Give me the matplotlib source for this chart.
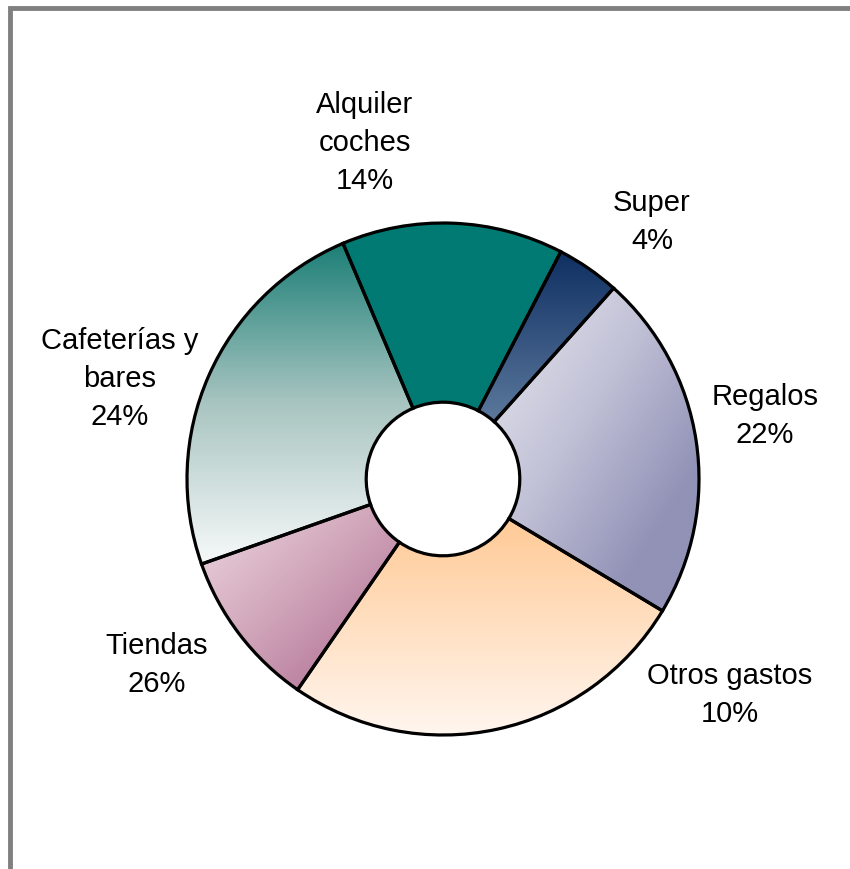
import numpy as np
import matplotlib
matplotlib.use("Agg")
import matplotlib.pyplot as plt
from matplotlib.colors import LinearSegmentedColormap
from matplotlib.patches import Wedge

plt.rcParams['font.family'] = ['Liberation Sans', 'DejaVu Sans']

# Datos (orden de las porciones, en sentido horario desde arriba)
porciones = ['Alquiler coches', 'Super', 'Regalos', 'Otros gastos', 'Tiendas', 'Cafeterías y bares']
valores = [14, 4, 22, 26, 10, 24]

# Etiquetas tal y como aparecen en el gráfico
etiquetas = ['Alquiler\ncoches', 'Super', 'Regalos', 'Otros gastos', 'Tiendas', 'Cafeterías y\nbares']
porcentajes = [14, 4, 22, 10, 26, 24]

# Colores de degradado (paradas, dirección)
degradados = [
    (['#007A73', '#007A73'], 'v'),
    (['#0E2F62', '#5C789C'], 'v'),
    (['#E0E0EA', '#B0B0CC', '#6E6EA0'], 'd'),
    (['#FFCA96', '#FFF6EF'], 'v'),
    (['#E8CAD7', '#C894AC', '#A45680'], 'd'),
    (['#1C7F77', '#A9C5C1', '#F6F9F9'], 'v'),
]
rayado = [False, False, True, False, True, False]

W, H = 850, 870
fig = plt.figure(figsize=(W / 100, H / 100), dpi=100)
ax = fig.add_axes([0, 0, 1, 1])

cx, cy, R = 443, H - 480, 256
wedges, _ = ax.pie(valores, center=(cx, cy), radius=R, startangle=113,
                   counterclock=False,
                   wedgeprops=dict(width=R * 0.7, facecolor='none',
                                   edgecolor='black', linewidth=2.3, zorder=3))


def rellenar(w, colores, modo):
    x0, y0, x1, y1 = w.get_path().get_extents().extents
    n = 300
    yy, xx = np.mgrid[0:1:n * 1j, 0:1:n * 1j]
    t = yy if modo == 'v' else np.clip((xx + yy) / 1.55, 0, 1)
    cmap = LinearSegmentedColormap.from_list('g', colores)
    im = ax.imshow(t, cmap=cmap, vmin=0, vmax=1, extent=[x0, x1, y0, y1],
                   origin='upper', interpolation='bilinear', zorder=1)
    im.set_clip_path(w)


for w, (colores, modo), r in zip(wedges, degradados, rayado):
    rellenar(w, colores, modo)
    if r:
        h = Wedge(w.center, w.r, w.theta1, w.theta2, width=w.width,
                  facecolor='none', edgecolor=(1, 1, 1, 0.25),
                  linewidth=0, hatch='\\' * 22, zorder=2)
        ax.add_patch(h)

# Posiciones de las etiquetas (píxeles)
pos_etiquetas = [(365, 143), (652, 222), (765, 416), (730, 695), (157, 665), (120, 379)]
for (px, py), nom, pct in zip(pos_etiquetas, etiquetas, porcentajes):
    ax.text(px, H - py, f'{nom}\n{pct}%', ha='center', va='center',
            fontsize=21, linespacing=1.45, color='black')

# Marco gris (izquierda y arriba)
ax.plot([10, 10, W + 5], [-5, H - 8.5, H - 8.5], color='#808080',
        linewidth=3.5, solid_joinstyle='miter', clip_on=False, zorder=5)

ax.set_xlim(0, W)
ax.set_ylim(0, H)
ax.set_aspect('equal')
ax.axis('off')

fig.savefig('out.png', dpi=100, facecolor='white')
